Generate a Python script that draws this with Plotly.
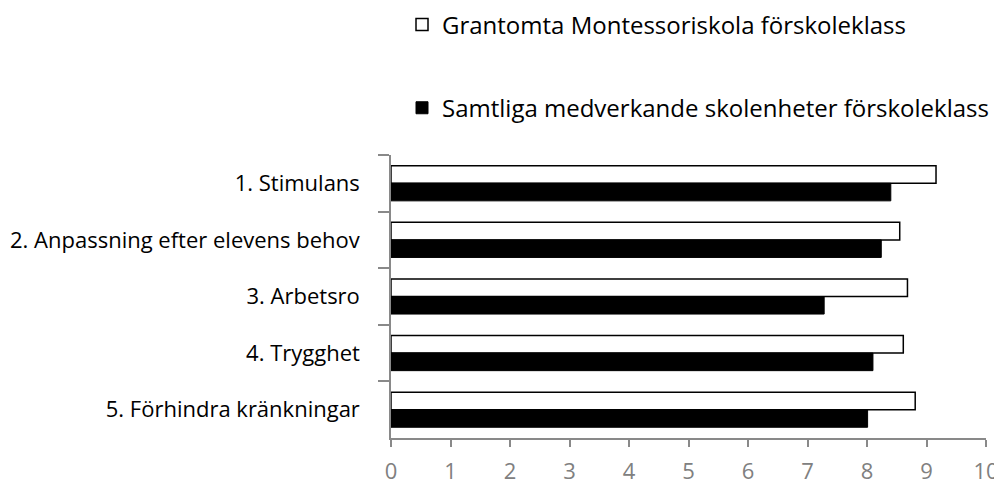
import plotly.graph_objects as go

categories = ["1. Stimulans", "2. Anpassning efter elevens behov", "3. Arbetsro",
              "4. Trygghet", "5. Förhindra kränkningar"]
school_name = "Grantomta Montessoriskola förskoleklass"
all_name = "Samtliga medverkande skolenheter förskoleklass"
school_values = [9.16, 8.55, 8.68, 8.61, 8.81]
all_values = [8.40, 8.24, 7.28, 8.10, 8.01]
x_ticks = [0, 1, 2, 3, 4, 5, 6, 7, 8, 9, 10]

FONT = "Open Sans"

fig = go.Figure()
fig.add_trace(go.Bar(
    y=categories, x=school_values, orientation="h", name=school_name,
    marker=dict(color="white", line=dict(color="black", width=1.5)),
    legendgroup="a", legendrank=1,
))
fig.add_trace(go.Bar(
    y=categories, x=all_values, orientation="h", name=all_name,
    marker=dict(color="black", line=dict(color="black", width=1)),
    legendgroup="b", legendrank=2,
))

# page body adds an 8px offset, so the figure is sized to the visible area
fig.update_layout(
    width=994, height=478,
    margin=dict(l=383, r=16, t=147, b=48, autoexpand=False),
    plot_bgcolor="white", paper_bgcolor="white",
    barmode="group", bargap=0.38, bargroupgap=0,
    font=dict(family=FONT, color="black"),
    legend=dict(
        x=0.0185, y=1.539,
        xanchor="left", yanchor="top",
        font=dict(size=24, family=FONT, color="black"),
        traceorder="grouped", tracegroupgap=49,
        bgcolor="rgba(0,0,0,0)",
    ),
    showlegend=True,
)
fig.update_xaxes(
    range=[0, 10], tickvals=x_ticks, showgrid=False, zeroline=False,
    showline=True, linecolor="#898989", linewidth=1.5,
    ticks="outside", ticklen=7, tickcolor="#898989", tickwidth=1.5,
    tickfont=dict(size=22, color="#808080", family=FONT),
    ticklabelstandoff=6,
    automargin=False,
)
fig.update_yaxes(
    autorange="reversed", showgrid=False, zeroline=False,
    showline=True, linecolor="#898989", linewidth=1.5,
    ticks="outside", ticklen=11, tickcolor="#898989", tickwidth=1.5,
    tickson="boundaries",
    tickfont=dict(size=22, color="black", family=FONT),
    ticklabelstandoff=25,
    automargin=False,
)

fig.write_html("out.html")
